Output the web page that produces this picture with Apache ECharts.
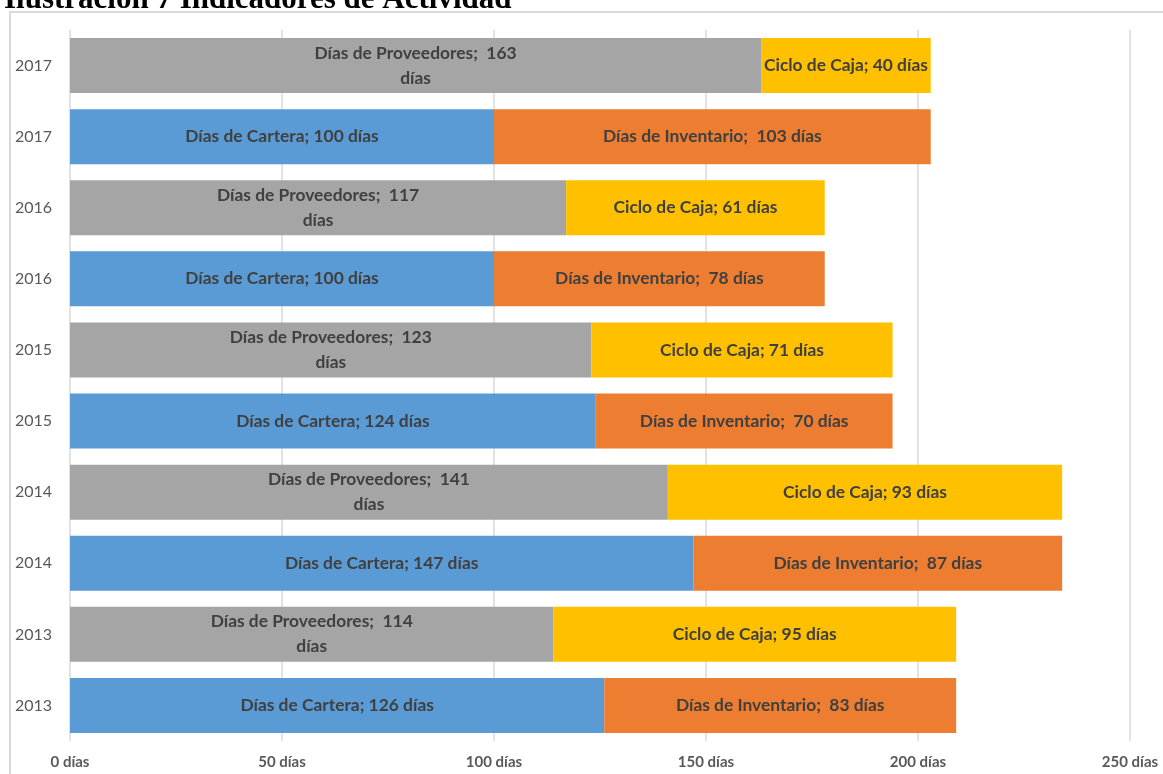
<!DOCTYPE html>
<html><head><meta charset="utf-8">
<script src="https://cdn.jsdelivr.net/npm/echarts@6/dist/echarts.min.js"></script>
<style>html,body{margin:0;padding:0;background:#fff}#c{width:1163px;height:774px}</style>
</head><body><div id="c"></div>
<script>
const titleText = 'Ilustración 7 Indicadores de Actividad';
const categories = ['2017','2017','2016','2016','2015','2015','2014','2014','2013','2013'];
const cartera     = [null, 100, null, 100, null, 124, null, 147, null, 126];
const proveedores = [163, null, 117, null, 123, null, 141, null, 114, null];
const inventario  = [null, 103, null, 78, null, 70, null, 87, null, 83];
const cicloCaja   = [40, null, 61, null, 71, null, 93, null, 95, null];
const xTicks = [0, 50, 100, 150, 200, 250];

const chart = echarts.init(document.getElementById('c'), null, {renderer:'canvas'});
const labelFont = {fontFamily:'Lato', fontSize:17.4, fontWeight:'bold', color:'#404040', lineHeight:25};
function ser(name, data, color, fmt){
  return {
    name, type:'bar', stack:'total', data, barWidth:55,
    itemStyle:{color},
    label:Object.assign({show:true, position:'inside', formatter:fmt}, labelFont)
  };
}
chart.setOption({
  animation:false,
  grid:{left:70, right:33, top:30, bottom:33, containLabel:false},
  graphic:[
    {type:'rect', shape:{x:10, y:12, width:1200, height:800}, style:{fill:'none', stroke:'#d9d9d9', lineWidth:2}, z:-1},
    {type:'text', x:4, y:-16, style:{text:titleText, font:'bold 31px "Liberation Serif"', fill:'#000'}}
  ],
  xAxis:{type:'value', min:xTicks[0], max:xTicks[xTicks.length-1], interval:50,
    axisLine:{show:false}, axisTick:{show:false},
    splitLine:{lineStyle:{color:'#d9d9d9', width:1.5}},
    axisLabel:{formatter:v=>v+' días', fontFamily:'Lato', fontSize:15, fontWeight:'bold', color:'#595959', margin:14}
  },
  yAxis:{type:'category', data:categories, inverse:true,
    axisLine:{show:false}, axisTick:{show:false},
    axisLabel:{fontFamily:'Lato', fontSize:16, color:'#595959', margin:18}
  },
  series:[
    ser('Días de Cartera', cartera, '#5B9BD5', p=>p.seriesName+'; '+p.value+' días'),
    ser('Días de Proveedores', proveedores, '#A5A5A5', p=>p.seriesName+';  '+p.value+'\ndías'),
    ser('Días de Inventario', inventario, '#ED7D31', p=>p.seriesName+';  '+p.value+' días'),
    ser('Ciclo de Caja', cicloCaja, '#FFC000', p=>p.seriesName+'; '+p.value+' días')
  ]
});
</script></body></html>
